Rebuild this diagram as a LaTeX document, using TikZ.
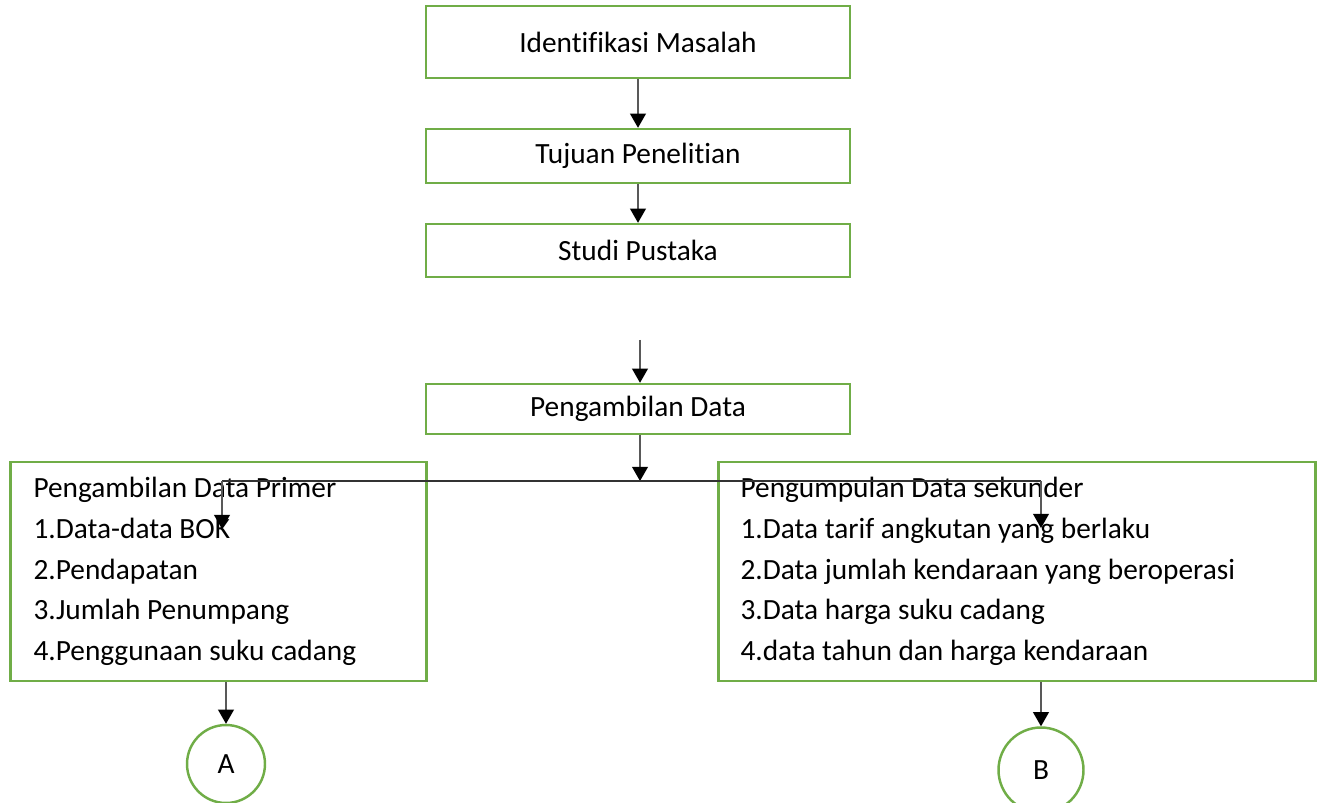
\documentclass[tikz,border=0pt]{standalone}
\usepackage{fontspec}
\setmainfont{Carlito}[Ligatures=NoCommon]
\usepackage{xcolor}
\usetikzlibrary{arrows.meta,calc}
\definecolor{boxgreen}{HTML}{70AD47}
\tikzset{
    greenbox/.style={draw=boxgreen, line width=1.4pt, minimum width=8.48cm, inner sep=0pt, font=\fontsize{16.7}{18}\selectfont},
    listbox/.style={greenbox, align=flush left, minimum height=4.38cm, font=\fontsize{16.7}{23.2}\selectfont},
    letter/.style={circle, draw=boxgreen, line width=1.4pt, inner sep=0pt, font=\fontsize{16.7}{18}\selectfont},
    flow/.style={draw=black!65, line width=0.6pt, -{Triangle[width=9pt,length=8pt,color=black]}}
}
\begin{document}
\begin{tikzpicture}[x=0.02cm, y=-0.02cm]
                    \useasboundingbox (0,0) rectangle (1323,803);
                    \node[greenbox, minimum height=1.44cm] (ident) at (638,42) {Identifikasi Masalah};
                    \node[greenbox, minimum height=1.08cm] (tujuan) at (638,156) {Tujuan Penelitian};
                    \node[greenbox, minimum height=1.06cm] (studi) at (638,250.5) {Studi Pustaka};
                    \node[greenbox, minimum height=1.0cm] (ambil) at (638,409) {Pengambilan Data};
                    \node[listbox, minimum width=8.32cm, text width=7.40cm, inner xsep=0.46cm] (primer) at (218.5,571.5) {Pengambilan Data Primer\\1.Data-data BOK\\2.Pendapatan\\3.Jumlah Penumpang\\4.Penggunaan suku cadang};
                    \node[listbox, minimum width=11.94cm, text width=11.06cm, inner xsep=0.44cm] (sekunder) at (1017,571.5) {Pengumpulan Data sekunder\\1.Data tarif angkutan yang berlaku\\2.Data jumlah kendaraan yang beroperasi\\3.Data harga suku cadang\\4.data tahun dan harga kendaraan};
                    \node[letter, minimum size=1.56cm] (A) at (226,764) {A};
                    \node[letter, minimum size=1.7cm] (B) at (1041,770) {B};
                    \coordinate (gap) at (640,340);
                    \coordinate (split) at (640,481);
                    \coordinate (splitl) at (222,481);
                    \coordinate (splitr) at (1041,481);
                    \coordinate (intol) at (222,529);
                    \coordinate (intor) at (1041,528);
                    \draw[flow] (ident.south) -- (tujuan.north);
                    \draw[flow] (tujuan.south) -- (studi.north);
                    \draw[flow] (gap) -- (gap |- ambil.north);
                    \draw[flow] (split |- ambil.south) -- (split);
                    \draw[black!80, line width=0.6pt] (splitl) -- (splitr);
                    \draw[flow] (splitl) -- (intol);
                    \draw[flow] (splitr) -- (intor);
                    \draw[flow] (A.north |- primer.south) -- (A.north);
                    \draw[flow] (B.north |- sekunder.south) -- (B.north);
                \end{tikzpicture}
\end{document}
